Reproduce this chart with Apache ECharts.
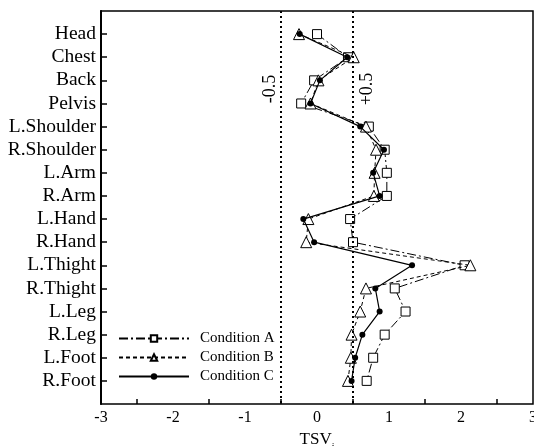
<!DOCTYPE html>
<html>
<head>
<meta charset="utf-8">
<script src="https://cdn.jsdelivr.net/npm/echarts@6/dist/echarts.min.js"></script>
<style>
  html, body { margin: 0; padding: 0; background: #fff; }
  #main { width: 534px; height: 446px; }
</style>
</head>
<body>
<div id="main"></div>
<script>
// body parts, top to bottom
var parts = ['Head', 'Chest', 'Back', 'Pelvis', 'L.Shoulder', 'R.Shoulder', 'L.Arm', 'R.Arm',
    'L.Hand', 'R.Hand', 'L.Thight', 'R.Thight', 'L.Leg', 'R.Leg', 'L.Foot', 'R.Foot'];
var condA = [0.00, 0.43, -0.04, -0.22, 0.72, 0.94, 0.97, 0.97, 0.46, 0.50, 2.05, 1.08, 1.23, 0.94, 0.78, 0.69];
var condB = [-0.25, 0.51, 0.02, -0.09, 0.68, 0.82, 0.80, 0.79, -0.12, -0.15, 2.13, 0.68, 0.60, 0.48, 0.47, 0.43];
var condC = [-0.24, 0.42, 0.04, -0.09, 0.60, 0.93, 0.78, 0.87, -0.19, -0.04, 1.32, 0.81, 0.87, 0.63, 0.53, 0.48];
var refLines = [-0.5, 0.5];
var refLabels = ['-0.5', '+0.5'];

var serif = 'Liberation Serif';

function pairs(vals) {
    var out = [];
    for (var i = 0; i < vals.length; i++) {
        out.push([vals[i], parts[i]]);
    }
    return out;
}

// empty slot on both ends gives the gap above Head and below R.Foot
var yCats = [''].concat(parts).concat(['']);

var option = {
    animation: false,
    backgroundColor: '#fff',
    grid: {
        left: 101,
        right: 1,
        top: 11,
        bottom: 42,
        outerBoundsMode: 'none',
        containLabel: false,
        show: true,
        borderColor: '#000',
        borderWidth: 1.5
    },
    legend: {
        orient: 'vertical',
        left: 113,
        top: 326,
        itemWidth: 70,
        itemHeight: 8,
        itemGap: 4,
        textStyle: { fontFamily: serif, fontSize: 15, color: '#000', padding: [0, 0, 0, 6] },
        data: ['Condition A', 'Condition B', 'Condition C']
    },
    xAxis: {
        type: 'value',
        min: -3,
        max: 3,
        interval: 1,
        splitLine: { show: false },
        axisLine: { lineStyle: { color: '#000', width: 2 } },
        axisTick: { inside: true, length: 9, lineStyle: { color: '#000', width: 1.5 } },
        minorTick: { show: true, splitNumber: 2, length: 5, lineStyle: { color: '#000', width: 1.5 } },
        axisLabel: { color: '#000', fontFamily: serif, fontSize: 16, margin: 6 },
        name: '{a|TSV}{b|i}',
        nameLocation: 'middle',
        nameGap: 25,
        nameTextStyle: {
            rich: {
                a: { fontFamily: serif, fontSize: 17, color: '#000' },
                b: { fontFamily: serif, fontSize: 10, color: '#000', verticalAlign: 'bottom', padding: [0, 0, -4, 0] }
            }
        }
    },
    yAxis: {
        type: 'category',
        inverse: true,
        boundaryGap: false,
        data: yCats,
        splitLine: { show: false },
        axisLine: { onZero: false, lineStyle: { color: '#000', width: 2 } },
        axisTick: {
            inside: true,
            length: 6,
            lineStyle: { color: '#000', width: 1.5 },
            interval: function (idx, val) { return val !== ''; }
        },
        axisLabel: { color: '#000', fontFamily: serif, fontSize: 19.5, margin: 5, interval: 0 }
    },
    series: [
        {
            name: 'Condition A',
            type: 'line',
            data: pairs(condA),
            symbol: 'rect',
            symbolSize: 9,
            itemStyle: { color: '#fff', borderColor: '#000', borderWidth: 1 },
            lineStyle: { color: '#000', width: 1, type: [9, 3, 2, 3] },
            z: 3
        },
        {
            name: 'Condition B',
            type: 'line',
            data: pairs(condB),
            symbol: 'triangle',
            symbolSize: 11,
            itemStyle: { color: '#fff', borderColor: '#000', borderWidth: 1 },
            lineStyle: { color: '#000', width: 1, type: [4, 3] },
            z: 4
        },
        {
            name: 'Condition C',
            type: 'line',
            data: pairs(condC),
            symbol: 'circle',
            symbolSize: 6,
            itemStyle: { color: '#000', borderColor: '#000', borderWidth: 0 },
            lineStyle: { color: '#000', width: 1.2, type: 'solid' },
            z: 5,
            markLine: {
                silent: true,
                symbol: 'none',
                label: { show: false },
                lineStyle: { color: '#000', width: 2, type: [2, 3] },
                data: refLines.map(function (v) { return { xAxis: v }; })
            }
        }
    ]
};

var myChart = echarts.init(document.getElementById('main'));
myChart.setOption(option);

// rotated labels beside the reference lines
var offs = [-11, 14];
var texts = [];
for (var i = 0; i < refLines.length; i++) {
    var px = myChart.convertToPixel({ xAxisIndex: 0 }, refLines[i]);
    texts.push({
        type: 'text',
        x: px + offs[i],
        y: 89,
        rotation: Math.PI / 2,
        style: {
            text: refLabels[i],
            font: '18px "Liberation Serif"',
            fill: '#000',
            align: 'center',
            verticalAlign: 'middle'
        },
        z: 10
    });
}
myChart.setOption({ graphic: texts });
</script>
</body>
</html>
